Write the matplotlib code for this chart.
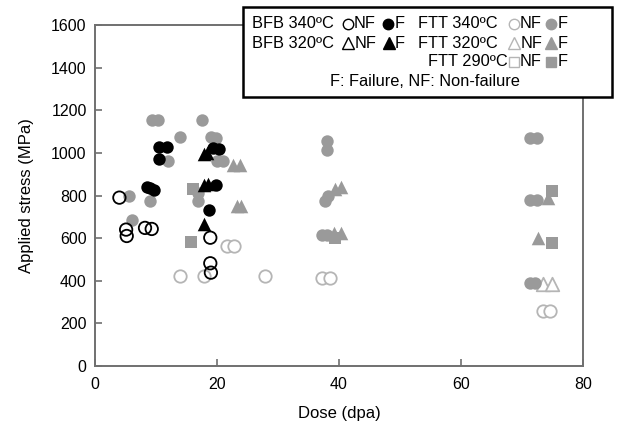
import matplotlib
matplotlib.use("Agg")
import matplotlib.pyplot as plt
from matplotlib.patches import Rectangle
from matplotlib.lines import Line2D

plt.rcParams['font.family'] = ['Liberation Sans', 'DejaVu Sans']

# ---- data (dose in dpa, stress in MPa) ----
bfb340_nf_dose = [4.0, 5.1, 5.2, 8.2, 9.3, 18.9, 18.9, 19.0]
bfb340_nf_stress = [790, 640, 610, 648, 643, 602, 482, 438]

bfb340_f_dose = [10.5, 11.8, 10.5, 8.5, 9.0, 9.6, 19.4, 20.3, 19.8, 18.7]
bfb340_f_stress = [1026, 1026, 972, 842, 835, 826, 1022, 1018, 848, 732]

bfb320_f_dose = [17.8, 18.4, 17.8, 18.6, 17.9]
bfb320_f_stress = [995, 1000, 850, 855, 665]

ftt340_nf_dose = [14.0, 17.8, 27.9, 21.6, 22.8, 37.2, 38.5, 73.5, 74.6]
ftt340_nf_stress = [420, 420, 420, 565, 565, 415, 415, 260, 260]

ftt340_f_dose = [9.3, 10.4, 17.5, 13.9, 19.0, 19.8, 12.0, 20.0, 21.0, 5.6, 9.0, 6.0,
                 16.9, 16.9, 38.0, 38.0, 37.7, 38.2, 37.2, 38.0,
                 71.3, 72.4, 71.3, 72.4, 71.3, 72.1]
ftt340_f_stress = [1155, 1155, 1155, 1073, 1075, 1070, 962, 963, 960, 800, 775, 685,
                   810, 775, 1055, 1015, 775, 800, 615, 615,
                   1070, 1070, 780, 780, 390, 390]

ftt320_nf_dose = [73.5, 74.9]
ftt320_nf_stress = [385, 385]

ftt320_f_dose = [22.7, 23.8, 23.2, 24.0, 39.3, 40.4, 39.1, 40.4, 74.3, 72.7]
ftt320_f_stress = [945, 945, 750, 750, 830, 840, 625, 625, 790, 600]

ftt290_f_dose = [16.1, 15.8, 39.3, 74.9, 74.9]
ftt290_f_stress = [830, 580, 600, 820, 575]

xticks = [0, 20, 40, 60, 80]
yticks = [0, 200, 400, 600, 800, 1000, 1200, 1400, 1600]

GREY = '#9a9a9a'
LIGHT = '#b5b5b5'
SPINE = '#707070'

fig = plt.figure(figsize=(6.17, 4.25), dpi=100)
ax = fig.add_axes([95/617, 1-366/425, (583-95)/617, (366-25)/425])

S_C, S_T, S_S = 80, 95, 75
ax.scatter(ftt340_nf_dose, ftt340_nf_stress, s=S_C, facecolors='white', edgecolors=LIGHT, linewidths=1.3, zorder=2)
ax.scatter(ftt320_nf_dose, ftt320_nf_stress, s=S_T, marker='^', facecolors='white', edgecolors=LIGHT, linewidths=1.3, zorder=2)
ax.scatter(ftt340_f_dose, ftt340_f_stress, s=S_C, color=GREY, linewidths=0, zorder=3)
ax.scatter(ftt320_f_dose, ftt320_f_stress, s=S_T, marker='^', color=GREY, linewidths=0, zorder=3)
ax.scatter(ftt290_f_dose, ftt290_f_stress, s=S_S, marker='s', color=GREY, linewidths=0, zorder=3)
ax.scatter(bfb340_nf_dose, bfb340_nf_stress, s=S_C, facecolors='none', edgecolors='black', linewidths=1.3, zorder=4)
ax.scatter(bfb340_f_dose, bfb340_f_stress, s=S_C, color='black', linewidths=0, zorder=5)
ax.scatter(bfb320_f_dose, bfb320_f_stress, s=S_T, marker='^', color='black', linewidths=0, zorder=5)

ax.set_xlim(0, 80)
ax.set_ylim(0, 1600)
ax.set_xticks(xticks)
ax.set_yticks(yticks)
ax.tick_params(direction='in', length=5, width=1.2, color=SPINE, labelsize=11.5)
ax.tick_params(axis='x', pad=8)
ax.tick_params(axis='y', pad=6)
for sp in ax.spines.values():
    sp.set_color(SPINE)
    sp.set_linewidth(1.4)
ax.set_xlabel('Dose (dpa)', fontsize=12, labelpad=10)
ax.set_ylabel('Applied stress (MPa)', fontsize=12, labelpad=12)

# ---- custom legend box ----
def fx(px):
    return px / 617
def fy(py):
    return 1 - py / 425

fig.add_artist(Rectangle((fx(243), fy(97)), fx(612) - fx(243), fy(7) - fy(97),
                         transform=fig.transFigure, facecolor='white', edgecolor='black',
                         linewidth=1.8, zorder=10))

FS = 11.8
def txt(x, y, s, ha='left'):
    fig.text(fx(x), fy(y), s, fontsize=FS, ha=ha, va='center', zorder=11)

def mk(x, y, marker, face, edge, size=7.5):
    fig.add_artist(Line2D([fx(x)], [fy(y)], marker=marker, markersize=size,
                          markerfacecolor=face, markeredgecolor=edge, markeredgewidth=1.0,
                          linestyle='none', transform=fig.transFigure, zorder=11))

r1, r2, r3, r4 = 24, 43, 62, 81
txt(252, r1, 'BFB 340ºC'); mk(348, r1, 'o', 'white', 'black'); txt(354, r1, 'NF')
mk(388, r1, 'o', 'black', 'black'); txt(395, r1, 'F')
txt(418, r1, 'FTT 340ºC'); mk(514, r1, 'o', 'white', LIGHT); txt(520, r1, 'NF')
mk(551, r1, 'o', GREY, GREY); txt(558, r1, 'F')

txt(252, r2, 'BFB 320ºC'); mk(348, r2, '^', 'white', 'black', 8.5); txt(355, r2, 'NF')
mk(389, r2, '^', 'black', 'black', 8.5); txt(395, r2, 'F')
txt(418, r2, 'FTT 320ºC'); mk(514, r2, '^', 'white', LIGHT, 8.5); txt(521, r2, 'NF')
mk(551, r2, '^', GREY, GREY, 8.5); txt(558, r2, 'F')

txt(428, r3, 'FTT 290ºC'); mk(514, r3, 's', 'white', LIGHT, 7); txt(520, r3, 'NF')
mk(551, r3, 's', GREY, GREY, 7); txt(558, r3, 'F')

txt(425, r4, 'F: Failure, NF: Non-failure', ha='center')

fig.savefig('out.png', dpi=100)
